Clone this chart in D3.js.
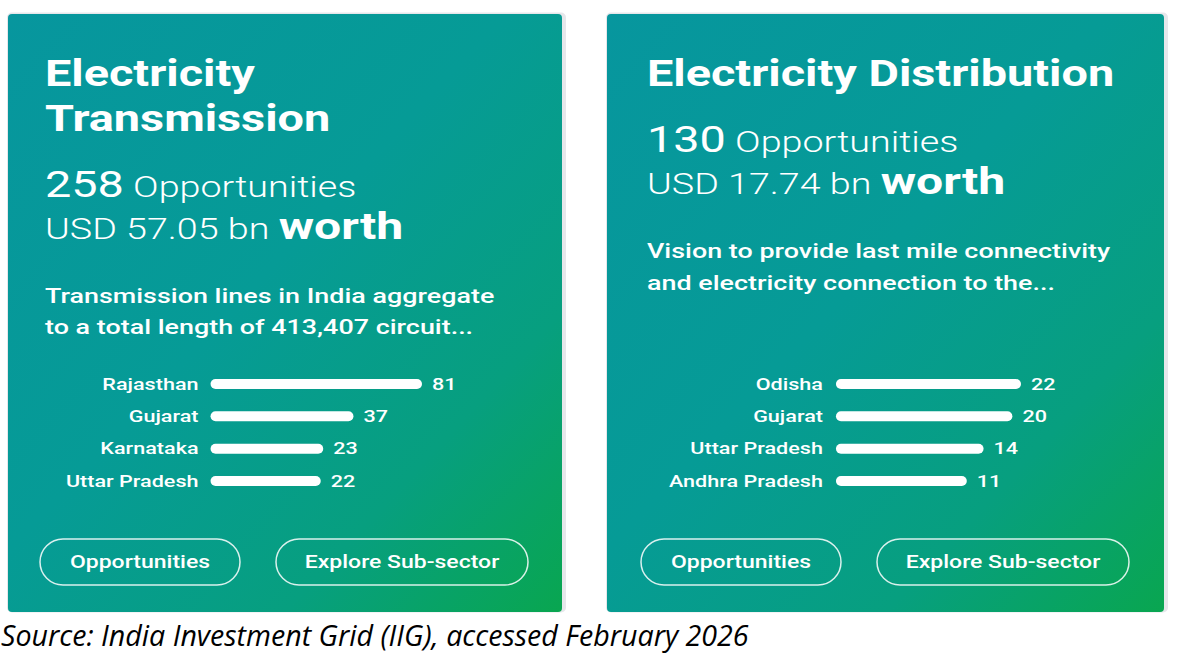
<!DOCTYPE html>
<html>
<head>
  <meta charset="utf-8">
  <title>Electricity Transmission and Distribution</title>
  <script src="https://cdnjs.cloudflare.com/ajax/libs/d3/7.8.5/d3.min.js"></script>
  <style>
    body { margin: 0; background: #fff; }
    text { font-family: Roboto, "Noto Sans", sans-serif; fill: #fff; }
    .source { font-family: "Open Sans", "DejaVu Sans", sans-serif; fill: #000; font-style: italic; }
  </style>
</head>
<body>
<div id="chart"></div>
<script>

// data
var titles = [["Electricity", "Transmission"], ["Electricity Distribution"]];
var opportunities = [258, 130];
var worthBn = ["57.05", "17.74"];
var blurbs = [
  ["Transmission lines in India aggregate", "to a total length of 413,407 circuit..."],
  ["Vision to provide last mile connectivity", "and electricity connection to the..."]
];
var transStates = ["Rajasthan", "Gujarat", "Karnataka", "Uttar Pradesh"];
var transCounts = [81, 37, 23, 22];
var distStates = ["Odisha", "Gujarat", "Uttar Pradesh", "Andhra Pradesh"];
var distCounts = [22, 20, 14, 11];
var buttons = ["Opportunities", "Explore Sub-sector"];
var sourceNote = "Source: India Investment Grid (IIG), accessed February 2026";

var width = 1178, height = 656;
var SX = 1.3; // the card image is stretched sideways in the reference

var svg = d3.select("#chart").append("svg")
    .attr("width", width)
    .attr("height", height);

var defs = svg.append("defs");
var grad = defs.append("linearGradient")
    .attr("id", "cardGrad")
    .attr("x1", "0").attr("y1", "0")
    .attr("x2", "1").attr("y2", "1");
grad.append("stop").attr("offset", "0").attr("stop-color", "#07969e");
grad.append("stop").attr("offset", "0.45").attr("stop-color", "#069b96");
grad.append("stop").attr("offset", "0.75").attr("stop-color", "#079f7f");
grad.append("stop").attr("offset", "1").attr("stop-color", "#09a650");

var cardBoxes = [
  {x: 8, y: 14, w: 554, h: 598, pad: 37, labelLeft: 58, gap: 12, btnShift: 0},
  {x: 607, y: 14, w: 557, h: 598, pad: 40, labelLeft: 62, gap: 13, btnShift: 2}
];
var stateSets = [transStates, distStates];
var countSets = [transCounts, distCounts];

function stext(g, x, y, size, weight, anchor) {
  return g.append("text")
    .attr("transform", "translate(" + x + "," + y + ") scale(" + SX + ",1)")
    .attr("text-anchor", anchor || "start")
    .style("font-size", size + "px")
    .style("font-weight", weight);
}

cardBoxes.forEach(function(b, i) {
  var g = svg.append("g").attr("transform", "translate(" + b.x + "," + b.y + ")");

  // soft frame
  g.append("rect")
    .attr("x", -1).attr("y", -1.5)
    .attr("width", b.w + 5).attr("height", b.h + 2)
    .attr("rx", 5)
    .attr("fill", "#e6e7eb");
  g.append("rect")
    .attr("width", b.w).attr("height", b.h)
    .attr("rx", 4)
    .attr("fill", "url(#cardGrad)");

  // title
  var ty = 72;
  titles[i].forEach(function(line, k) {
    stext(g, b.pad, ty + k * 44.5, 36, 700).text(line);
  });
  var y0 = ty + (titles[i].length - 1) * 44.5;

  var t1 = stext(g, b.pad, y0 + 66, 36, 400);
  t1.append("tspan").text(opportunities[i]);
  t1.append("tspan").style("font-size", "29px").style("font-weight", 300).text(" Opportunities");

  var t2 = stext(g, b.pad, y0 + 108, 29, 300);
  t2.append("tspan").text("USD " + worthBn[i] + " bn ");
  t2.append("tspan").style("font-size", "37px").style("font-weight", 700).text("worth");

  blurbs[i].forEach(function(line, k) {
    stext(g, b.pad, y0 + 172 + k * 31.5, 20.7, 500).text(line);
  });

  // state bars
  var states = stateSets[i], counts = countSets[i];
  var y = d3.scalePoint().domain(states).range([370, 467]);

  var lab = g.selectAll(".state")
    .data(states)
    .enter().append("text")
    .attr("class", "state")
    .attr("text-anchor", "end")
    .style("font-size", "16.6px")
    .style("font-weight", 500)
    .text(function(d) { return d; });

  var maxW = d3.max(lab.nodes(), function(n) { return n.getComputedTextLength(); }) * SX;
  var labelRight = b.labelLeft + maxW;
  var barStart = labelRight + b.gap;
  var barEnd = 414;

  lab.attr("transform", function(d) {
    return "translate(" + labelRight + "," + (y(d) + 5.5) + ") scale(" + SX + ",1)";
  });

  var x = d3.scaleSqrt()
    .domain([0, d3.max(counts)])
    .range([0, barEnd - barStart]);

  g.selectAll(".bar")
    .data(counts)
    .enter().append("rect")
    .attr("class", "bar")
    .attr("x", barStart)
    .attr("y", function(d, k) { return y(states[k]) - 5; })
    .attr("width", function(d) { return x(d); })
    .attr("height", 10)
    .attr("rx", 5)
    .attr("fill", "#fff");

  g.selectAll(".val")
    .data(counts)
    .enter().append("text")
    .attr("class", "val")
    .attr("transform", function(d, k) {
      return "translate(" + (barStart + x(d) + 10) + "," + (y(states[k]) + 5.5) + ") scale(" + SX + ",1)";
    })
    .style("font-size", "16.6px")
    .style("font-weight", 500)
    .text(function(d) { return d; });

  // buttons
  var btnX = [32, 268], btnW = [200, 252];
  buttons.forEach(function(label, k) {
    var bx = btnX[k] + b.btnShift;
    g.append("rect")
      .attr("x", bx).attr("y", 525)
      .attr("width", btnW[k]).attr("height", 46)
      .attr("rx", 23)
      .attr("fill", "none")
      .attr("stroke", "rgba(255,255,255,0.85)")
      .attr("stroke-width", 1.5);
    stext(g, bx + btnW[k] / 2, 554, 17.7, 500, "middle").text(label);
  });
});

svg.append("text")
  .attr("class", "source")
  .attr("x", 1)
  .attr("y", 646)
  .style("font-size", "28.6px")
  .text(sourceNote);

</script>
</body>
</html>
